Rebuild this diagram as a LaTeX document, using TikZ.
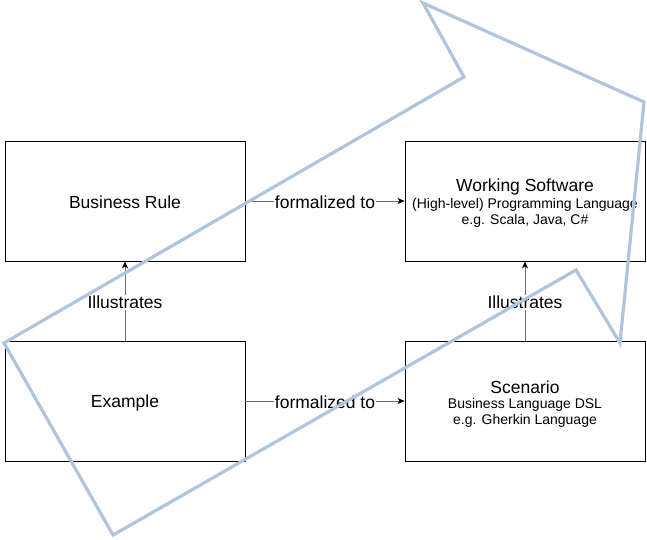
\documentclass[tikz,border=0pt]{standalone}
\usepackage{fontspec}
\setmainfont{Liberation Sans}
\usetikzlibrary{arrows.meta}
\definecolor{flowblue}{HTML}{B1C4DE}
\definecolor{edgegray}{HTML}{6E6E6E}
\begin{document}
\begin{tikzpicture}[x=1pt,y=-1pt,
  box/.style={draw=black,line width=0.9pt,minimum width=240pt,minimum height=120pt,inner sep=0pt},
  big/.style={font=\fontsize{17.5}{21}\selectfont,inner sep=0pt},
  small/.style={font=\fontsize{14}{16}\selectfont,inner sep=0pt},
  conn/.style={draw=edgegray,line width=0.9pt,-{Stealth[length=7pt,width=6pt,inset=2pt,color=black]}},
  elabel/.style={font=\fontsize{17.5}{21}\selectfont,fill=white,inner sep=1pt}
]
\useasboundingbox (0,0) rectangle (647,539);
\node[box] (rule) at (125,201) {};
\node[box] (soft) at (525,201) {};
\node[box] (ex) at (125,401) {};
\node[box] (scen) at (525,401) {};
\node[big] (ruleT) at (125,202.5) {Business Rule};
\node[big] (exT) at (125,402.5) {Example};
\node[big] (softT) at (525,187) {Working Software};
\node[small] (softA) at (525,204.5) {(High-level) Programming Language};
\node[small] (softB) at (525,220.5) {e.g. Scala, Java, C\#};
\node[big] (scenT) at (525,387) {Scenario};
\node[small] (scenA) at (525,404.5) {Business Language DSL};
\node[small] (scenB) at (525,420.5) {e.g. Gherkin Language};
\draw[conn] (rule.east) -- node[elabel,yshift=-1.5pt] (l1) {formalized to} (soft.west);
\draw[conn] (ex.east) -- node[elabel,yshift=-1.5pt] (l2) {formalized to} (scen.west);
\draw[conn] (ex.north) -- node[elabel,yshift=-1.5pt] (l3) {Illustrates} (rule.south);
\draw[conn] (scen.north) -- node[elabel,yshift=-1.5pt] (l4) {Illustrates} (soft.south);
\draw[flowblue,line width=3.2pt,line join=miter]
  (4,343) -- (464,77) -- (423,3) -- (644,102) -- (620,343) -- (576,270) -- (113,535) -- cycle;
\end{tikzpicture}
\end{document}
